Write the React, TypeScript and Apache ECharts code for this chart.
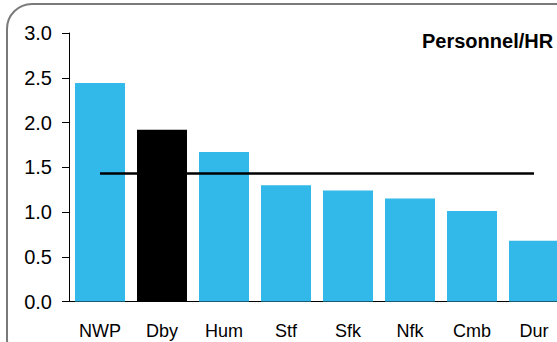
import React, { useEffect, useRef } from "react";
import * as echarts from "echarts";

const categories = ["NWP", "Dby", "Hum", "Stf", "Sfk", "Nfk", "Cmb", "Dur"];
const values = [2.44, 1.92, 1.67, 1.3, 1.24, 1.15, 1.01, 0.68];
const highlight = "Dby";
const benchmark = [1.43, 1.43, 1.43, 1.43, 1.43, 1.43, 1.43, 1.43];
const yTicks = { min: 0, max: 3, interval: 0.5 };
const title = "Personnel/HR";

export default function App() {
  const ref = useRef<HTMLDivElement>(null);
  useEffect(() => {
    if (!ref.current) return;
    const chart = echarts.init(ref.current, null, { renderer: "svg" });
    const font = "'Liberation Sans', Arial, sans-serif";
    chart.setOption({
      animation: false,
      backgroundColor: "#ffffff",
      grid: { left: 69, top: 33, width: 496, height: 268.5 },
      graphic: [
        {
          type: "rect",
          shape: { x: 7, y: 4, width: 575, height: 360, r: 25 },
          style: { fill: "none", stroke: "#7a7a7a", lineWidth: 2 },
          z: 100,
        },
        {
          type: "text",
          left: 422,
          top: 31,
          style: {
            text: title,
            fontFamily: font,
            fontWeight: "bold",
            fontSize: 20,
            fill: "#000",
          },
        },
      ],
      xAxis: {
        type: "category",
        data: categories,
        axisLine: { lineStyle: { color: "#000", width: 1 } },
        axisTick: { show: false },
        axisLabel: { color: "#000", fontSize: 18, fontFamily: font, margin: 20 },
      },
      yAxis: {
        type: "value",
        min: yTicks.min,
        max: yTicks.max,
        interval: yTicks.interval,
        splitLine: { show: false },
        axisLine: { show: true, lineStyle: { color: "#000", width: 1 } },
        axisTick: { show: true, length: 7, lineStyle: { color: "#000" } },
        axisLabel: {
          color: "#000",
          fontSize: 20,
          fontFamily: font,
          margin: 17,
          formatter: (v: number) => v.toFixed(1),
        },
      },
      series: [
        {
          type: "bar",
          barWidth: 50,
          data: categories.map((c, i) => ({
            value: values[i],
            itemStyle: { color: c === highlight ? "#000000" : "#33b9e9" },
          })),
        },
        {
          type: "line",
          data: benchmark,
          symbol: "none",
          lineStyle: { color: "#000", width: 2.5 },
          z: 5,
        },
      ],
    });
    return () => chart.dispose();
  }, []);
  return (
    <div
      style={{
        position: "fixed",
        left: 0,
        top: 0,
        width: 557,
        height: 342,
        overflow: "hidden",
        background: "#fff",
      }}
    >
      <div ref={ref} style={{ width: 620, height: 342 }} />
    </div>
  );
}
